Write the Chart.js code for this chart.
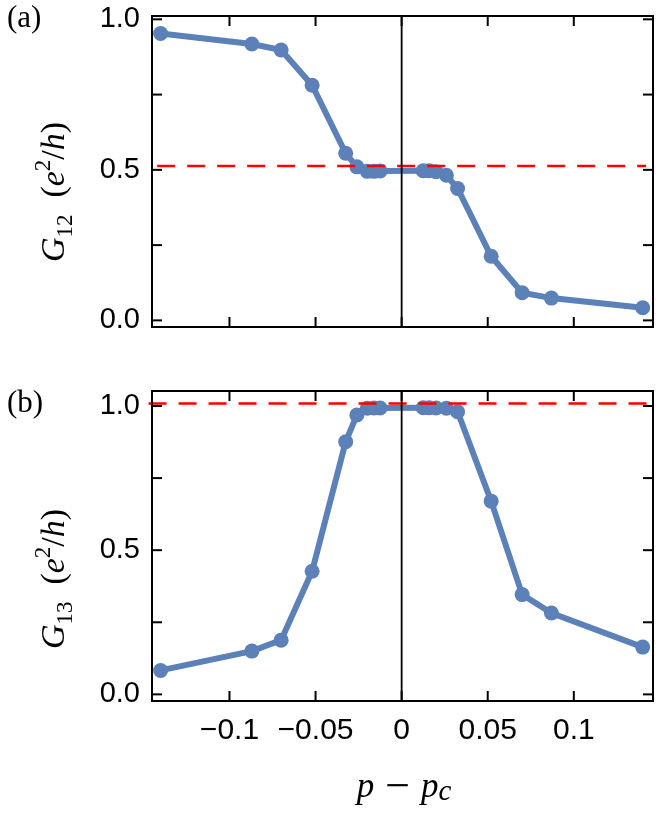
<!DOCTYPE html>
<html>
<head>
<meta charset="utf-8">
<script src="https://cdn.jsdelivr.net/npm/chart.js@4"></script>
<style>
  html, body { margin: 0; padding: 0; background: #fff; }
  #fig { position: relative; width: 664px; height: 835px; }
  #fig canvas { position: absolute; left: 0; }
</style>
</head>
<body>
<div id="fig">
  <canvas id="chart_g12" width="664" height="350" style="top:0"></canvas>
  <canvas id="chart_g13" width="664" height="485" style="top:350px"></canvas>
</div>
<script>
// p - p_c (shared by both panels)
const pValues = [-0.14, -0.087, -0.07, -0.052, -0.0325, -0.026, -0.02, -0.016, -0.0125,
                 0.0125, 0.016, 0.02, 0.026, 0.0325, 0.052, 0.07, 0.087, 0.14];
// G12 in units of e^2/h
const g12Values = [0.953, 0.918, 0.898, 0.781, 0.555, 0.510, 0.495, 0.495, 0.496,
                   0.497, 0.497, 0.494, 0.482, 0.438, 0.213, 0.092, 0.074, 0.042];
// G13 in units of e^2/h
const g13Values = [0.083, 0.150, 0.188, 0.427, 0.876, 0.969, 0.992, 0.993, 0.993,
                   0.994, 0.994, 0.993, 0.992, 0.980, 0.670, 0.346, 0.282, 0.164];

// red dashed reference levels
const ref12X = [-0.142, 0.142];
const ref12Y = [0.513, 0.513];
const ref13X = [-0.147, 0.145];
const ref13Y = [1.009, 1.009];

const xTicks = [-0.1, -0.05, 0, 0.05, 0.1];
const xTickLabels = ['\u22120.1', '\u22120.05', '0', '0.05', '0.1'];
const yTicks = [0, 0.5, 1];
const yTickLabels = ['0.0', '0.5', '1.0'];
const yMinorTicks = [0.25, 0.75];

const BLUE = 'rgb(92,128,184)';
const SANS = "'Liberation Sans', Arial, sans-serif";
const SERIF = "'Liberation Serif', 'Times New Roman', serif";

function seg(ctx, x1, y1, x2, y2) {
    ctx.beginPath(); ctx.moveTo(x1, y1); ctx.lineTo(x2, y2); ctx.stroke();
}

/** Texto con sub/superíndices, centrado en (x,y), opcionalmente rotado */
function drawRuns(ctx, runs, x, y, angle) {
    ctx.save();
    ctx.translate(x, y); ctx.rotate(angle);
    ctx.textAlign = 'left'; ctx.textBaseline = 'alphabetic'; ctx.fillStyle = '#000';
    let w = 0;
    runs.forEach(r => { ctx.font = r.font; r.w = ctx.measureText(r.text).width + (r.kern || 0); w += r.w; });
    let cx = -w / 2;
    runs.forEach(r => { ctx.font = r.font; ctx.fillText(r.text, cx, r.dy || 0); cx += r.w; });
    ctx.restore();
}

function yTitleRuns(sub) {
    return [
        { text: 'G', font: `italic 34px ${SERIF}` },
        { text: sub, font: `23px ${SERIF}`, dy: 8 },
        { text: '  (', font: `34px ${SERIF}` },
        { text: 'e', font: `italic 34px ${SERIF}` },
        { text: '2', font: `23px ${SERIF}`, dy: -14 },
        { text: '/', font: `34px ${SERIF}` },
        { text: 'h', font: `italic 34px ${SERIF}` },
        { text: ')', font: `34px ${SERIF}` }
    ];
}

const decoPlugin = {
    id: 'deco',
    afterDatasetsDraw(chart, args, opts) {
        const { ctx, chartArea: a, scales: { x, y } } = chart;
        ctx.save();
        ctx.strokeStyle = '#000';
        // p = p_c
        ctx.lineWidth = 1.8;
        const x0 = x.getPixelForValue(0);
        seg(ctx, x0, a.top, x0, a.bottom);
        // marco y ticks hacia dentro
        ctx.lineWidth = 2;
        ctx.strokeRect(a.left, a.top, a.right - a.left, a.bottom - a.top);
        const L = 10;
        xTicks.forEach(v => {
            const px = x.getPixelForValue(v);
            seg(ctx, px, a.bottom, px, a.bottom - L);
            seg(ctx, px, a.top, px, a.top + L);
        });
        yTicks.concat(yMinorTicks).forEach(v => {
            const py = y.getPixelForValue(v);
            seg(ctx, a.left, py, a.left + L, py);
            seg(ctx, a.right, py, a.right - L, py);
        });
        // etiqueta del panel
        ctx.fillStyle = '#000';
        ctx.font = `31px ${SERIF}`;
        ctx.textAlign = 'left'; ctx.textBaseline = 'alphabetic';
        ctx.fillText(opts.panel, 7, opts.panelY);
        // título eje y
        drawRuns(ctx, yTitleRuns(opts.sub), 64, opts.titleY, -Math.PI / 2);
        if (opts.xTitle) {
            drawRuns(ctx, [
                { text: 'p', font: `italic 35px ${SERIF}` },
                { text: ' \u2212 ', font: `44px ${SERIF}`, dy: 3 },
                { text: 'p', font: `italic 35px ${SERIF}` },
                { text: 'c', font: `italic 29px ${SERIF}`, dy: 3 }
            ], 404, opts.xTitleY, 0);
        }
        ctx.restore();
    }
};

function makePanel(canvasId, values, refX, refY, yMin, yMax, showX, deco) {
    return new Chart(document.getElementById(canvasId), {
        type: 'line',
        data: {
            datasets: [
                { data: refX.map((xv, i) => ({ x: xv, y: refY[i] })), borderColor: '#ff0000', borderWidth: 2.5,
                  borderDash: [18, 12], pointRadius: 0, clip: false, order: 0 },
                { data: pValues.map((xv, i) => ({ x: xv, y: values[i] })), borderColor: BLUE, backgroundColor: BLUE,
                  borderWidth: 6, pointRadius: 7.5, pointBorderWidth: 0, pointBackgroundColor: BLUE, order: 1 }
            ]
        },
        options: {
            responsive: false, animation: false, devicePixelRatio: 1,
            layout: { padding: { top: deco.padTop, right: 11, left: 0, bottom: 0 } },
            plugins: { legend: { display: false }, tooltip: { enabled: false }, deco },
            scales: {
                x: {
                    type: 'linear', min: -0.145, max: 0.146,
                    grid: { display: false, drawTicks: false }, border: { display: false },
                    afterBuildTicks: s => { s.ticks = xTicks.map(v => ({ value: v })); },
                    afterFit: s => { s.height = deco.xHeight; s.paddingLeft = 0; s.paddingRight = 0; },
                    ticks: { display: showX, autoSkip: false, maxRotation: 0, padding: 12, color: '#000',
                             font: { family: SANS, size: 30 }, callback: (v, i) => xTickLabels[i] }
                },
                y: {
                    min: yMin, max: yMax,
                    grid: { display: false, drawTicks: false }, border: { display: false },
                    afterBuildTicks: s => { s.ticks = yTicks.map(v => ({ value: v })); },
                    afterFit: s => { s.width = 152; s.paddingTop = 0; s.paddingBottom = 0; },
                    ticks: { autoSkip: false, padding: 12, color: '#000',
                             font: { family: SANS, size: 29 }, callback: (v, i) => yTickLabels[i] }
                }
            }
        },
        plugins: [decoPlugin]
    });
}

makePanel('chart_g12', g12Values, ref12X, ref12Y, -0.022, 1.011, false,
    { panel: '(a)', panelY: 27, sub: '12', titleY: 192, padTop: 16, xHeight: 23 });
makePanel('chart_g13', g13Values, ref13X, ref13Y, -0.023, 1.052, true,
    { panel: '(b)', panelY: 62, sub: '13', titleY: 229, padTop: 41, xHeight: 134, xTitle: true, xTitleY: 447 });
</script>
</body>
</html>
